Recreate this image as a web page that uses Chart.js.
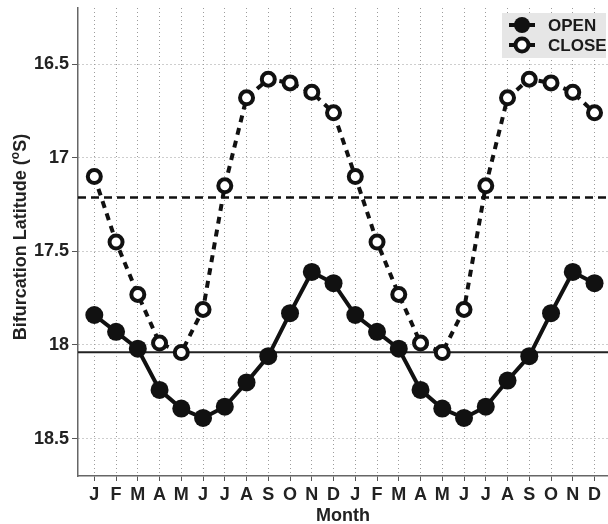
<!DOCTYPE html>
<html>
<head>
<meta charset="utf-8">
<script src="https://cdn.jsdelivr.net/npm/chart.js@4.4.0/dist/chart.umd.min.js"></script>
<style>
  html, body { margin: 0; padding: 0; background: #fff; }
  #wrap { width: 608px; height: 524px; }
</style>
</head>
<body>
<div id="wrap"><canvas id="c" width="608" height="524"></canvas></div>
<script>
// Two years of monthly bifurcation latitude (degrees south)
const months = ['J','F','M','A','M','J','J','A','S','O','N','D',
                'J','F','M','A','M','J','J','A','S','O','N','D'];
const openLat  = [17.84, 17.93, 18.02, 18.24, 18.34, 18.39, 18.33, 18.20, 18.06, 17.83, 17.61, 17.67,
                  17.84, 17.93, 18.02, 18.24, 18.34, 18.39, 18.33, 18.19, 18.06, 17.83, 17.61, 17.67];
const closeLat = [17.10, 17.45, 17.73, 17.99, 18.04, 17.81, 17.15, 16.68, 16.58, 16.60, 16.65, 16.76,
                  17.10, 17.45, 17.73, 17.99, 18.04, 17.81, 17.15, 16.68, 16.58, 16.60, 16.65, 16.76];
const yTicks = [16.5, 17, 17.5, 18, 18.5];
const yTickLabels = ['16.5', '17', '17.5', '18', '18.5'];
const seriesNames = ['OPEN', 'CLOSE'];

const X_MIN = -0.75, X_MAX = 23.62;

// annual means shown as reference lines
const mean = a => a.slice(0, 12).reduce((s, v) => s + v, 0) / 12;
const openMean = mean(openLat);
const closeMean = mean(closeLat);

const toPts = arr => arr.map((v, i) => ({ x: i, y: v }));
const INK = '#111';
const FONT = '"Liberation Sans", Arial, Helvetica, sans-serif';

// axis titles and the boxed legend
const decorations = {
  id: 'decorations',
  afterDraw(chart) {
    const ctx = chart.ctx;
    const area = chart.chartArea;
    ctx.save();
    ctx.fillStyle = '#222';

    // x title
    ctx.font = 'bold 18px ' + FONT;
    ctx.textAlign = 'center';
    ctx.textBaseline = 'alphabetic';
    ctx.fillText('Month', (area.left + area.right) / 2, 521);

    // y title with superscript degree "o"
    ctx.save();
    ctx.translate(26, (area.top + area.bottom) / 2 - 5);
    ctx.rotate(-Math.PI / 2);
    ctx.textAlign = 'left';
    const big = 'bold 18px ' + FONT, small = 'bold 12px ' + FONT;
    const p1 = 'Bifurcation Latitude (', p2 = 'o', p3 = 'S)';
    ctx.font = big; const w1 = ctx.measureText(p1).width, w3 = ctx.measureText(p3).width;
    ctx.font = small; const w2 = ctx.measureText(p2).width;
    let x = -(w1 + w2 + w3) / 2;
    ctx.font = big; ctx.fillText(p1, x, 0); x += w1;
    ctx.font = small; ctx.fillText(p2, x, -7); x += w2;
    ctx.font = big; ctx.fillText(p3, x, 0);
    ctx.restore();

    // legend
    const bx = area.right - 106, by = area.top + 5, bw = 104, bh = 45;
    ctx.fillStyle = '#e6e6e6';
    ctx.fillRect(bx, by, bw, bh);
    const lx0 = bx + 7, lx1 = bx + 33, cx = bx + 20;
    const rows = [by + 12, by + 32];
    ctx.strokeStyle = INK;
    ctx.lineWidth = 4;
    // OPEN: solid line + filled dot
    ctx.beginPath(); ctx.moveTo(lx0, rows[0]); ctx.lineTo(lx1, rows[0]); ctx.stroke();
    ctx.fillStyle = INK;
    ctx.beginPath(); ctx.arc(cx, rows[0], 8, 0, Math.PI * 2); ctx.fill();
    // CLOSE: dashes + hollow ring
    ctx.beginPath(); ctx.moveTo(lx0, rows[1]); ctx.lineTo(lx0 + 5, rows[1]);
    ctx.moveTo(lx1 - 5, rows[1]); ctx.lineTo(lx1, rows[1]); ctx.stroke();
    ctx.fillStyle = '#fff';
    ctx.beginPath(); ctx.arc(cx, rows[1], 6.5, 0, Math.PI * 2); ctx.fill(); ctx.stroke();
    ctx.fillStyle = '#1a1a1a';
    ctx.font = 'bold 17px ' + FONT;
    ctx.textAlign = 'left';
    ctx.textBaseline = 'middle';
    ctx.fillText(seriesNames[0], bx + 46, rows[0] + 1);
    ctx.fillText(seriesNames[1], bx + 46, rows[1] + 1);
    ctx.restore();
  }
};

new Chart(document.getElementById('c'), {
  type: 'line',
  data: {
    datasets: [
      {
        label: seriesNames[1],
        data: toPts(closeLat),
        borderColor: INK, borderWidth: 4, borderDash: [7, 6],
        pointRadius: 6.5, pointBorderWidth: 4,
        pointBackgroundColor: '#fff', pointBorderColor: INK,
        tension: 0
      },
      {
        label: seriesNames[0],
        data: toPts(openLat),
        borderColor: INK, borderWidth: 4,
        pointRadius: 9, pointBorderWidth: 0,
        pointBackgroundColor: INK,
        tension: 0
      },
      {
        label: 'close mean',
        data: [{ x: X_MIN, y: closeMean }, { x: X_MAX, y: closeMean }],
        borderColor: INK, borderWidth: 2.5, borderDash: [8, 5],
        pointRadius: 0
      },
      {
        label: 'open mean',
        data: [{ x: X_MIN, y: openMean }, { x: X_MAX, y: openMean }],
        borderColor: '#222', borderWidth: 2,
        pointRadius: 0
      }
    ]
  },
  options: {
    responsive: false,
    animation: false,
    devicePixelRatio: 1,
    layout: { autoPadding: false, padding: { top: 8, right: 0, bottom: 0, left: 0 } },
    plugins: { legend: { display: false }, tooltip: { enabled: false } },
    scales: {
      x: {
        type: 'linear',
        min: X_MIN, max: X_MAX,
        afterBuildTicks: s => { s.ticks = months.map((_, i) => ({ value: i })); },
        afterFit: s => { s.height = 48; s.paddingLeft = 0; s.paddingRight = 0; },
        ticks: {
          callback: v => months[v] ?? '',
          autoSkip: false, maxRotation: 0,
          font: { family: FONT, size: 18, weight: 'bold' },
          color: '#222', padding: 3
        },
        grid: { color: '#9c9c9c', lineWidth: 1, tickLength: 5, tickColor: '#555', tickWidth: 1 },
        border: { display: true, color: '#666', width: 1.5, dash: [1, 3] }
      },
      y: {
        type: 'linear',
        reverse: true,
        min: 16.2, max: 18.7,
        afterBuildTicks: s => { s.ticks = yTicks.map(v => ({ value: v })); },
        afterFit: s => { s.width = 78; s.paddingTop = 0; s.paddingBottom = 0; },
        ticks: {
          callback: (v, i) => yTickLabels[i],
          font: { family: FONT, size: 18, weight: 'bold' },
          color: '#222', padding: 3
        },
        grid: { color: '#9c9c9c', lineWidth: 1, tickLength: 6, tickColor: '#555', tickWidth: 1 },
        border: { display: true, color: '#666', width: 1.5, dash: [1, 3] }
      }
    }
  },
  plugins: [decorations]
});
</script>
</body>
</html>
